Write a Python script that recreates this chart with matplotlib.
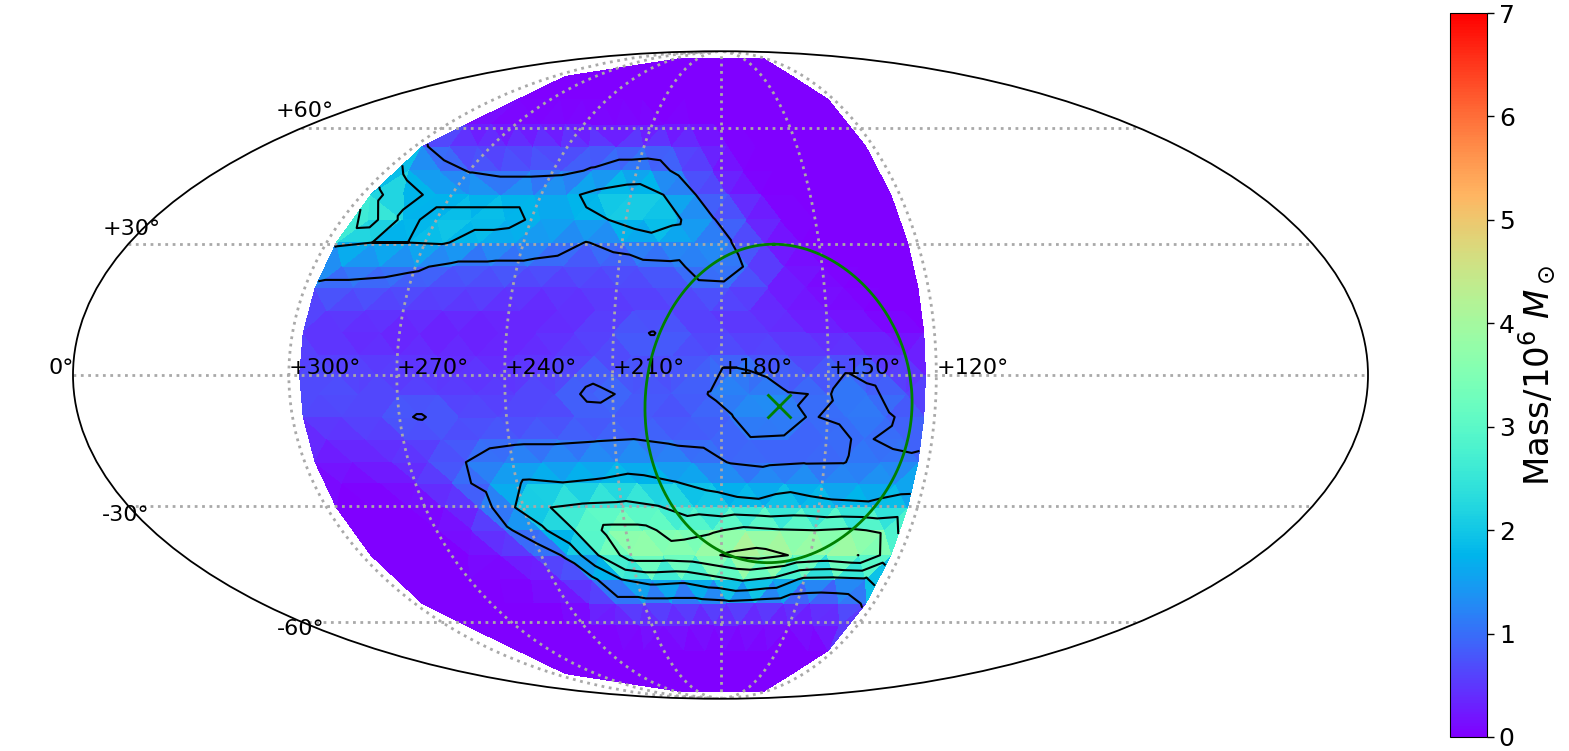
import numpy as np
import matplotlib
matplotlib.use("Agg")
import matplotlib.pyplot as plt
import matplotlib.tri as mtri
from matplotlib.ticker import FixedLocator
from matplotlib.transforms import Affine2D

# ---- data -------------------------------------------------------------
lon_full = [297, 286.1, 275.25, 264.4, 253.5, 242.6, 231.75, 220.9, 210, 199.1,
            188.25, 177.4, 166.5, 155.6, 144.75, 133.9, 123]
lon_half = [291.6, 280.7, 269.8, 259, 248.1, 237.2, 226.3, 215.5, 204.6, 193.7,
            182.8, 172, 161.1, 150.2, 139.3, 128.4]
lon_top = lon_full[6:]
lon_cap = lon_full[1:]

row_p85 = [0] * 11
row_p77 = [0] * 16
row_p69 = [0] * 16
row_p61 = [.25, .1, .08, .1, .1, .1, .1, .1, .08, .05, 0, 0, 0, 0, 0, 0]
row_p55 = [1.1, .6, .5, .55, .6, .6, .65, .7, .7, .6, .45, .1, 0, 0, 0, 0, 0]
row_p48 = [1.6, 1.3, .95, .8, .8, .85, 1.05, 1.25, 1.3, .8, .4, .05, 0, 0, 0, 0]
row_p42 = [2.9, 2.1, 1.6, 1.6, 1.6, 1.6, 1.65, 2.0, 2.2, 1.8, 1.0, .5, .05, 0, 0, 0, 0]
row_p36 = [3.0, 1.6, 2.0, 2.0, 2.0, 1.65, 1.6, 1.8, 2.2, 1.9, 1.05, .6, .1, 0, 0, 0]
row_p30 = [1.9, 1.8, 1.8, 1.85, 1.55, 1.45, 1.3, .98, 1.2, 1.5, 1.4, 1.05, .35, .05, 0, 0, 0]
row_p25 = [1.25, 1.2, 1.08, .85, .85, .85, .75, .7, .8, .85, 1.35, .95, .3, .05, 0, 0]
row_p20 = [.85, .85, .8, .7, .65, .6, .5, .55, .6, .65, .8, .85, .35, .15, .05, 0, 0]
row_p14 = [.55, .55, .5, .45, .4, .35, .35, .45, .55, .6, .55, .45, .3, .15, .05, 0]
row_p09 = [.45, .4, .3, .25, .25, .3, .35, .5, .7, 1.03, .65, .55, .5, .4, .3, .15, .05]
row_p04 = [.55, .5, .45, .45, .4, .35, .5, .6, .7, .7, .75, .75, .6, .55, .5, .3]
row_000 = [.75, .7, .65, .55, .45, .45, .6, .75, .75, .7, .85, 1.15, .95, .8, 1.05, .75, .5]
row_m04 = [.75, .65, .6, .6, .55, .6, .7, 1.15, .88, .75, 1.02, 1.4, 1.02, .98, 1.2, .6]
row_m09 = [.55, .6, .7, 1.06, .7, .65, .65, .7, .75, .75, .75, .95, 1.5, .98, 1.05, 1.1, .7]
row_m14 = [.35, .45, .5, .6, .8, .9, .9, .95, 1.0, .9, .85, .95, .9, .9, 1.05, .85]
row_m20 = [.2, .25, .35, .6, 1.0, 1.3, 1.35, 1.4, 1.5, 1.4, 1.25, .98, .9, .97, .98, 1.2, 1.1]
row_m25 = [.05, .1, .25, .75, 1.25, 1.9, 1.82, 1.9, 2.05, 1.85, 1.6, 1.35, 1.6, 1.4, 1.35, 1.55]
row_m30 = [0, 0, .05, .15, .55, 1.8, 2.6, 2.75, 2.8, 2.65, 2.3, 2.15, 2.05, 2.15, 2.0, 1.95, 2.1]
row_m36 = [0, 0, .03, .25, .85, 1.6, 2.6, 3.6, 3.6, 3.1, 3.3, 3.6, 3.45, 3.4, 3.5, 3.3]
row_m42 = [0, 0, 0, .05, .2, .45, 1.1, 2.6, 3.8, 3.8, 3.9, 4.3, 4.45, 4.15, 3.95, 4.205, 3.0]
row_m48 = [0, 0, 0, .02, .1, .3, .8, 1.8, 2.1, 2.0, 2.35, 2.7, 2.45, 1.65, 1.6, 1.7]
row_m55 = [0, 0, 0, 0, 0, .05, .25, .7, .7, .7, .7, .8, .7, .6, .5, .55, 1.1]
row_m61 = [0, 0, 0, 0, 0, .02, .1, .2, .25, .2, .2, .2, .2, .15, .2, .4]
row_m69 = [0] * 16
row_m77 = [0] * 16
row_m85 = [0] * 11

rows = [
    (85.0, lon_top, row_p85), (77.0, lon_half, row_p77), (68.8, lon_cap, row_p69),
    (61.1, lon_half, row_p61), (54.8, lon_full, row_p55), (48.3, lon_half, row_p48),
    (42.1, lon_full, row_p42), (35.9, lon_half, row_p36), (30.4, lon_full, row_p30),
    (24.7, lon_half, row_p25), (19.8, lon_full, row_p20), (14.5, lon_half, row_p14),
    (9.5, lon_full, row_p09), (4.3, lon_half, row_p04), (0.0, lon_full, row_000),
    (-4.3, lon_half, row_m04), (-9.5, lon_full, row_m09), (-14.5, lon_half, row_m14),
    (-19.8, lon_full, row_m20), (-24.7, lon_half, row_m25), (-30.4, lon_full, row_m30),
    (-35.9, lon_half, row_m36), (-42.1, lon_full, row_m42), (-48.3, lon_half, row_m48),
    (-54.8, lon_full, row_m55), (-61.1, lon_half, row_m61), (-68.8, lon_cap, row_m69),
    (-77.0, lon_half, row_m77), (-85.0, lon_top, row_m85),
]

contour_levels = [1.0, 1.8, 2.6, 3.4, 4.2]
lon_ticks = [120, 150, 180, 210, 240, 270, 300]
lat_ticks = [-60, -30, 0, 30, 60]
lat_labels = ["-60°", "-30°", "0°", "+30°", "+60°"]
cbar_ticks = [0, 1, 2, 3, 4, 5, 6, 7]

circle_lon, circle_lat, circle_radius = 163.8, -7.0, 37.0

# ---- helpers ----------------------------------------------------------
def to_x(lon):
    return np.deg2rad(180.0 - np.asarray(lon, dtype=float))

lons = np.concatenate([np.asarray(r[1], float) for r in rows])
lats = np.concatenate([np.full(len(r[1]), r[0]) for r in rows])
mass = np.concatenate([np.asarray(r[2], float) for r in rows])

W, H = 1569, 751
fig = plt.figure(figsize=(W / 100, H / 100), dpi=100)
ax = fig.add_axes([73 / W, (H - 375 - 324) / H, 1295 / W, 648 / H], projection="mollweide")

# Facets are straight in the projected plane: triangulate after the projection.
proj_xy = ax.transProjection.transform(np.column_stack([to_x(lons), np.deg2rad(lats)]))
tri = mtri.Triangulation(proj_xy[:, 0], proj_xy[:, 1])
proj_to_display = ax.transAffine + ax.transAxes
pc = ax.tripcolor(tri, mass, cmap="rainbow", vmin=0, vmax=7, shading="flat",
                  edgecolors="none", transform=proj_to_display, zorder=1)
ax.tricontour(tri, mass, levels=contour_levels, colors="black", linewidths=1.5,
              transform=proj_to_display, zorder=2)

# circle and centre
t = np.linspace(0, 2 * np.pi, 361)
d0, r0 = np.deg2rad(circle_lat), np.deg2rad(circle_radius)
c_lat = np.arcsin(np.sin(d0) * np.cos(r0) + np.cos(d0) * np.sin(r0) * np.cos(t))
c_dl = np.arctan2(np.sin(t) * np.sin(r0) * np.cos(d0), np.cos(r0) - np.sin(d0) * np.sin(c_lat))
ax.plot(to_x(circle_lon) + c_dl, c_lat, color="green", lw=2, zorder=3)
ax.plot(to_x(circle_lon), np.deg2rad(circle_lat), marker="x", color="green", ms=17, mew=2, ls="none", zorder=3)

# grid
ax.set_longitude_grid_ends(89.9)
ax.xaxis.set_major_locator(FixedLocator(to_x(lon_ticks)))
ax.set_xticklabels([f"+{v}°" for v in lon_ticks], fontsize=16)
for lab in ax.get_xticklabels():
    lab.set_ha("left")
    lab.set_transform(lab.get_transform() + Affine2D().translate(0, -7))
ax.yaxis.set_major_locator(FixedLocator(np.deg2rad(lat_ticks)))
ax.set_yticklabels([])
ax.grid(True, color="darkgray", linestyle=":", linewidth=2)
for sp in ax.spines.values():
    sp.set_linewidth(1.3)

# latitude labels
lab_dx = [-25, -26, -25, -26, -26]
lab_dy = [-7, -9, 7, 15, 17]
lat_theta = np.deg2rad(np.array(lat_ticks, float))
for la, txt, dx, dy in zip(lat_theta, lat_labels, lab_dx, lab_dy):
    ax.annotate(txt, xy=(-np.pi, la), xycoords="data",
                xytext=(dx * 72 / 100, dy * 72 / 100), textcoords="offset points",
                ha="left", va="center", fontsize=16, annotation_clip=False)

# colour bar
cax = fig.add_axes([1450 / W, (H - 737) / H, 37 / W, 724 / H])
cb = fig.colorbar(pc, cax=cax, ticks=cbar_ticks)
cb.ax.tick_params(labelsize=18, length=5, width=1)
cb.set_label(r"Mass/$10^6$ $M_\odot$", fontsize=24.5, labelpad=1)

fig.savefig("out.png", dpi=100)
